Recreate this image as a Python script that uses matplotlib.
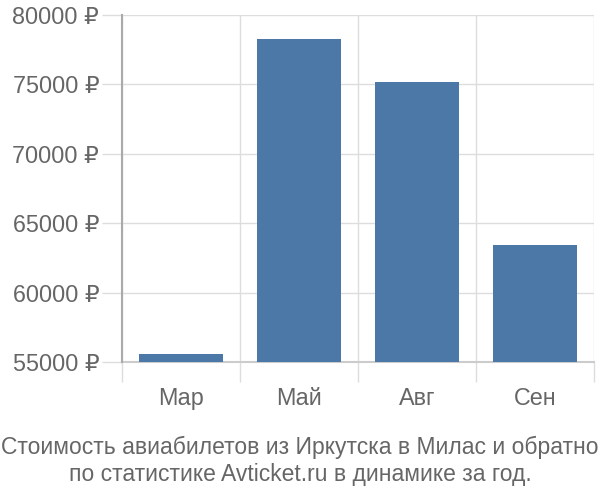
import matplotlib
matplotlib.use("Agg")
import matplotlib.pyplot as plt
import numpy as np

months = ["Мар", "Май", "Авг", "Сен"]
prices = [55600, 78250, 75150, 63400]
yticks = [55000, 60000, 65000, 70000, 75000, 80000]
title_lines = ["Стоимость авиабилетов из Иркутска в Милас и обратно",
               "по статистике Avticket.ru в динамике за год."]

plt.rcParams['font.family'] = ['Liberation Sans', 'DejaVu Sans']

fig = plt.figure(figsize=(6, 5), dpi=100)
ax = fig.add_axes([122/600, 138/500, 472/600, 347/500])

x = np.arange(len(months))
ax.bar(x, prices - np.array(yticks[0]), bottom=yticks[0], width=0.72,
       color="#4c78a8", zorder=3)

ax.set_xlim(-0.5, len(months) - 0.5)
ax.set_ylim(yticks[0], yticks[-1])

ax.set_yticks(yticks)
ax.set_yticklabels([f"{v} ₽" for v in yticks])
ax.set_xticks(x)
ax.set_xticklabels(months)
ax.set_xticks(np.arange(len(months) + 1) - 0.5, minor=True)

ax.tick_params(axis='x', which='major', length=0, pad=18, labelsize=16.8, labelcolor="#666666")
ax.tick_params(axis='x', which='minor', length=14.4, width=1, color="#dddddd")
ax.tick_params(axis='y', which='major', length=14.4, width=1, color="#dddddd",
               pad=2, labelsize=16.8, labelcolor="#666666")

ax.grid(True, axis='y', which='major', color="#dddddd", linewidth=1, zorder=0)
ax.grid(True, axis='x', which='minor', color="#dddddd", linewidth=1, zorder=0)

for s in ['top', 'right']:
    ax.spines[s].set_visible(False)
ax.spines['left'].set_color("#aaaaaa")
ax.spines['bottom'].set_color("#cccccc")
ax.spines['left'].set_linewidth(1.5)
ax.spines['bottom'].set_linewidth(1.5)
ax.spines['left'].set_zorder(4)

fig.text(0.5, 1 - 447/500, title_lines[0], ha='center', va='center', fontsize=16.5, color="#666666")
fig.text(0.5, 1 - 475/500, title_lines[1], ha='center', va='center', fontsize=16.5, color="#666666")

fig.savefig("out.png", dpi=100)
